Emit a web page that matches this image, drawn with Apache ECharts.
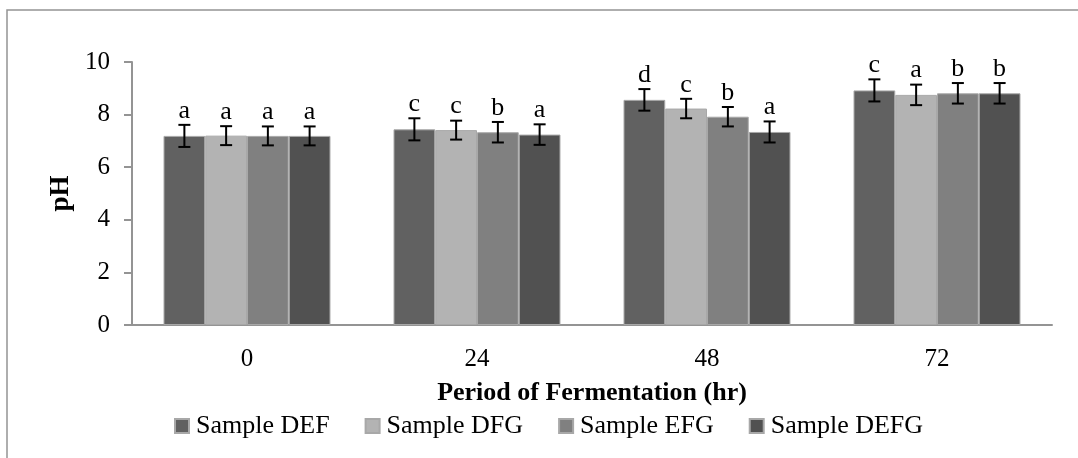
<!DOCTYPE html>
<html>
<head>
<meta charset="utf-8" />
<title>pH during fermentation</title>
<script src="https://cdn.jsdelivr.net/npm/echarts@6/dist/echarts.min.js"></script>
<style>
  html, body { margin: 0; padding: 0; background: #fff; }
  #chart { width: 1078px; height: 458px; }
</style>
</head>
<body>
<div id="chart"></div>
<script type="text/javascript">
  var periods = ['0', '24', '48', '72'];
  var sampleNames = ['Sample DEF', 'Sample DFG', 'Sample EFG', 'Sample DEFG'];
  var sampleColors = ['#616161', '#b3b3b3', '#808080', '#515151'];

  // mean pH per sample, one value per period
  var phDEF  = [7.19, 7.44, 8.56, 8.92];
  var phDFG  = [7.20, 7.41, 8.23, 8.75];
  var phEFG  = [7.19, 7.33, 7.92, 8.81];
  var phDEFG = [7.19, 7.24, 7.34, 8.81];

  // error bar half-lengths
  var errDEF  = [0.42, 0.42, 0.41, 0.42];
  var errDFG  = [0.36, 0.36, 0.37, 0.39];
  var errEFG  = [0.36, 0.39, 0.37, 0.39];
  var errDEFG = [0.36, 0.39, 0.40, 0.39];

  // significance letters
  var letDEF  = ['a', 'c', 'd', 'c'];
  var letDFG  = ['a', 'c', 'c', 'a'];
  var letEFG  = ['a', 'b', 'b', 'b'];
  var letDEFG = ['a', 'a', 'a', 'b'];

  var yTicks = [0, 2, 4, 6, 8, 10];

  var means = [phDEF, phDFG, phEFG, phDEFG];
  var errs = [errDEF, errDFG, errEFG, errDEFG];
  var letters = [letDEF, letDFG, letEFG, letDEFG];

  var serif = "'Liberation Serif', 'Times New Roman', serif";
  var catGap = 0.274;

  // one row per bar: [period index, sample index, mean, err]
  var errRows = [];
  means.forEach(function (arr, s) {
    arr.forEach(function (v, c) {
      errRows.push([c, s, v, errs[s][c]]);
    });
  });

  function renderErr(params, api) {
    var c = api.value(0), s = api.value(1), v = api.value(2), e = api.value(3);
    var catW = api.size([1, 0])[0];
    var barW = catW * (1 - catGap) / 4;
    var center = api.coord([c, v]);
    var x = center[0] + (s - 1.5) * barW;
    var yHi = api.coord([c, v + e])[1];
    var yLo = api.coord([c, v - e])[1];
    var cap = 6;
    var st = { stroke: '#000', lineWidth: 2 };
    return {
      type: 'group',
      children: [
        { type: 'line', shape: { x1: x, y1: yHi, x2: x, y2: yLo }, style: st },
        { type: 'line', shape: { x1: x - cap, y1: yHi, x2: x + cap, y2: yHi }, style: st },
        { type: 'line', shape: { x1: x - cap, y1: yLo, x2: x + cap, y2: yLo }, style: st },
        { type: 'text', style: {
            text: letters[s][c], x: x, y: yHi - 1,
            align: 'center', verticalAlign: 'bottom',
            font: '26px ' + serif, fill: '#000'
        } }
      ]
    };
  }

  var series = sampleNames.map(function (name, i) {
    return {
      name: name,
      type: 'bar',
      data: means[i],
      barGap: '0%',
      barCategoryGap: (catGap * 100) + '%',
      itemStyle: { color: sampleColors[i], borderColor: '#a8a8a8', borderWidth: 1 },
      emphasis: { disabled: true }
    };
  });
  series.push({
    type: 'custom',
    name: 'err',
    data: errRows,
    renderItem: renderErr,
    encode: { x: 0, y: 2 },
    z: 5,
    silent: true
  });

  var myChart = echarts.init(document.getElementById('chart'));
  var option = {
    animation: false,
    backgroundColor: '#fff',
    textStyle: { fontFamily: serif, color: '#000' },
    graphic: [{
      type: 'rect',
      shape: { x: 7, y: 10, width: 1200, height: 600 },
      style: { fill: 'none', stroke: '#949494', lineWidth: 1.5 },
      silent: true
    }],
    grid: { left: 132, right: 26, top: 62, bottom: 133 },
    legend: {
      data: sampleNames,
      top: 408,
      left: 169,
      icon: 'rect',
      itemWidth: 14,
      itemHeight: 14,
      itemGap: 35,
      textStyle: { fontFamily: serif, fontSize: 26, color: '#000', padding: [0, 0, 0, 2] }
    },
    xAxis: {
      type: 'category',
      data: periods,
      name: 'Period of Fermentation (hr)',
      nameLocation: 'middle',
      nameGap: 55,
      nameTextStyle: { fontFamily: serif, fontSize: 26, fontWeight: 'bold', color: '#000' },
      axisLine: { lineStyle: { color: '#949494', width: 2 } },
      axisTick: { length: 8, lineStyle: { color: '#949494', width: 2 } },
      axisLabel: { fontFamily: serif, fontSize: 25, color: '#000', margin: 22 }
    },
    yAxis: {
      type: 'value',
      min: yTicks[0],
      max: yTicks[yTicks.length - 1],
      interval: 2,
      name: 'pH',
      nameLocation: 'middle',
      nameRotate: 90,
      nameGap: 57,
      nameTextStyle: { fontFamily: serif, fontSize: 27, fontWeight: 'bold', color: '#000' },
      splitLine: { show: false },
      axisLine: { show: true, lineStyle: { color: '#949494', width: 2 } },
      axisTick: { show: true, length: 8, lineStyle: { color: '#949494', width: 2 } },
      axisLabel: { fontFamily: serif, fontSize: 25, color: '#000', margin: 22 }
    },
    series: series
  };
  myChart.setOption(option);
</script>
</body>
</html>
